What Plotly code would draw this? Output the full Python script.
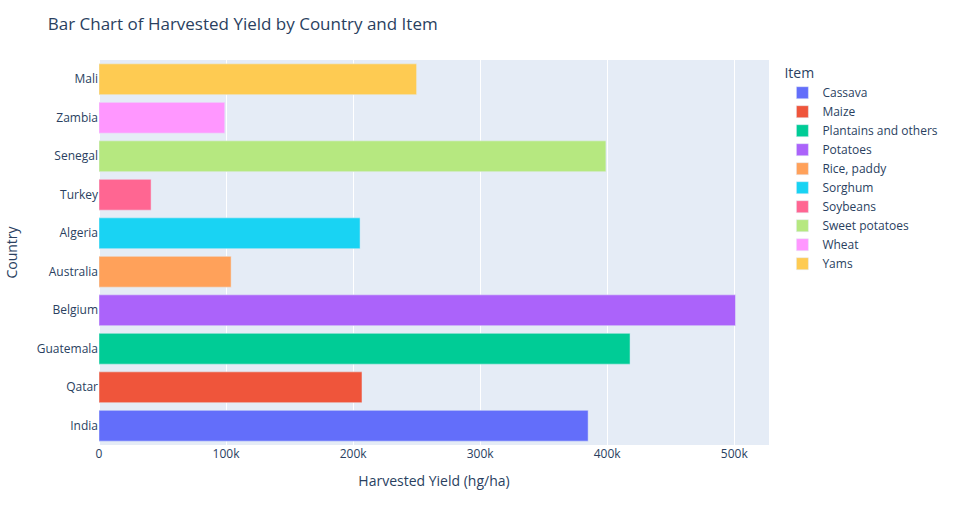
import plotly.graph_objects as go

countries = ["India", "Qatar", "Guatemala", "Belgium", "Australia", "Algeria",
             "Turkey", "Senegal", "Zambia", "Mali"]
items = ["Cassava", "Maize", "Plantains and others", "Potatoes", "Rice, paddy",
         "Sorghum", "Soybeans", "Sweet potatoes", "Wheat", "Yams"]
yields = [385000, 207000, 418000, 501000, 104000, 205500, 41000, 399000, 99000, 250000]
colors = ["#636efa", "#EF553B", "#00cc96", "#ab63fa", "#FFA15A",
          "#19d3f3", "#FF6692", "#B6E880", "#FF97FF", "#FECB52"]

fig = go.Figure()
for c, it, v, col in zip(countries, items, yields, colors):
    fig.add_trace(go.Bar(x=[v], y=[c], name=it, orientation="h",
                         marker_color=col, legendgroup=it,
                         offsetgroup=None))

fig.update_layout(
    template="plotly",
    width=955, height=525,
    barmode="relative",
    title=dict(text="Bar Chart of Harvested Yield by Country and Item"),
    xaxis=dict(title=dict(text="Harvested Yield (hg/ha)")),
    yaxis=dict(title=dict(text="Country"), categoryorder="array", categoryarray=countries),
    legend=dict(title=dict(text="Item"), tracegroupgap=0),
    margin=dict(t=60),
)
fig.write_html("out.html")
